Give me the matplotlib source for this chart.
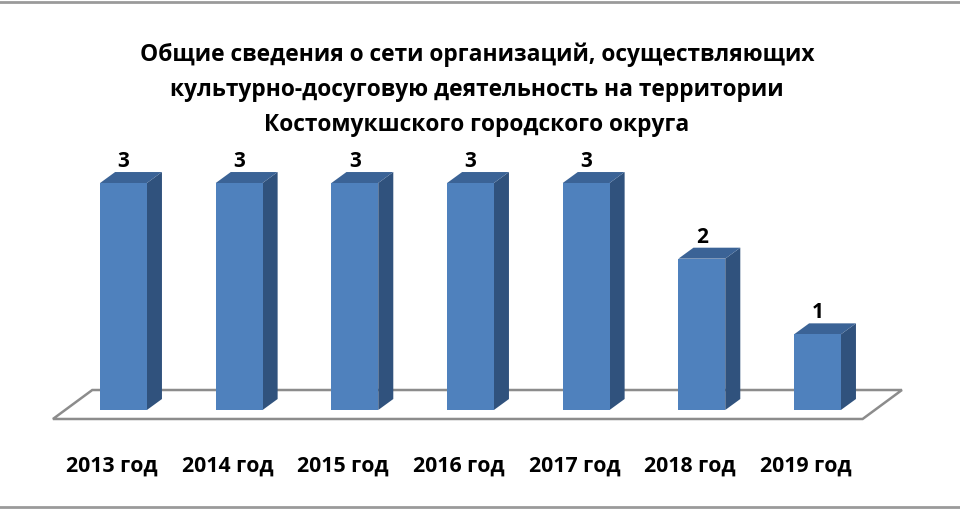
import numpy as np
import matplotlib.pyplot as plt
from matplotlib.patches import Polygon
from matplotlib.lines import Line2D

plt.rcParams['font.family'] = ['Open Sans', 'DejaVu Sans']

# данные
gody = ["2013 год", "2014 год", "2015 год", "2016 год", "2017 год", "2018 год", "2019 год"]
znach = [3, 3, 3, 3, 3, 2, 1]
zagolovok = ("Общие сведения о сети организаций, осуществляющих\n"
             "культурно-досуговую деятельность на территории\n"
             "Костомукшского городского округа")

# цвета
c_front = "#4F81BD"
c_side = "#30527D"
c_top = "#3B6396"

W, H = 960, 510
fig = plt.figure(figsize=(9.6, 5.1), dpi=100)

# оси: центры столбцов 0..6, нуль на 411 px
ax = fig.add_axes([54.1 / W, (H - 429.9) / H, 832.8 / W, (429.9 - 138.6) / H])
ax.set_xlim(-0.6, 6.6)
ax.set_ylim(-0.25, 3.6)
ax.axis("off")

x = np.arange(len(znach))
w = 0.405
dx, dy = 0.13, 0.145

# пол
pol = Polygon([(-0.61, -0.119), (6.39, -0.119), (6.73, 0.264), (-0.27, 0.264)],
              closed=True, facecolor="white", edgecolor="#8C8C8C", lw=1.8,
              clip_on=False, zorder=1)
ax.add_patch(pol)

# столбцы
ax.bar(x, znach, width=w, color=c_front, zorder=3)
for xi, v in zip(x, znach):
    r = xi + w / 2
    l = xi - w / 2
    ax.add_patch(Polygon([(r, 0), (r + dx, dy), (r + dx, v + dy), (r, v)],
                         closed=True, facecolor=c_side, edgecolor="none", zorder=2))
    ax.add_patch(Polygon([(l, v), (r, v), (r + dx, v + dy), (l + dx, v + dy)],
                         closed=True, facecolor=c_top, edgecolor="none", zorder=2))
    ax.annotate(str(v), (xi, v + dy), xytext=(0, 4.3), textcoords="offset points",
                ha="center", va="baseline", fontsize=15, fontweight="bold")

# подписи годов
for xi, g in zip(x, gody):
    ax.annotate(g, (xi, -0.25), xytext=(-8.3, -30.2), textcoords="offset points",
                ha="center", va="baseline", fontsize=15.3, fontweight="bold",
                annotation_clip=False)

# заголовок
fig.text(477 / W, 1 - 90 / H, zagolovok, ha="center", va="center",
         fontsize=16.4, fontweight="bold", linespacing=1.61)

# рамка сверху и снизу
fig.add_artist(Line2D([0, 1], [1 - 2.5 / H, 1 - 2.5 / H], color="#9A9A9A", lw=2))
fig.add_artist(Line2D([0, 1], [1 - 507.5 / H, 1 - 507.5 / H], color="#9A9A9A", lw=2))

fig.savefig("out.png", dpi=100)
